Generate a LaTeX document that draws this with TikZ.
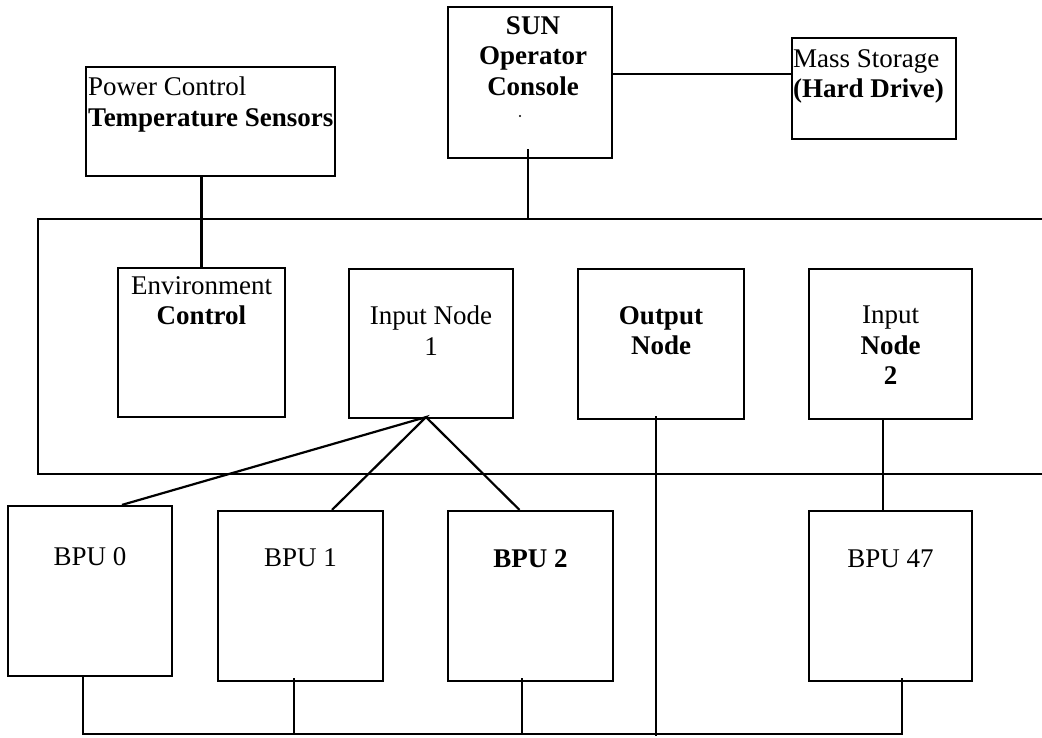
\documentclass[tikz,border=0pt]{standalone}
\usepackage{fontspec}
\setmainfont{Liberation Serif}
\usetikzlibrary{calc}
\begin{document}
\begin{tikzpicture}[x=1pt,y=-1pt,
  box/.style={draw,line width=2.2pt,inner sep=0pt},
  txt/.style={inner sep=0pt,font=\fontsize{27}{30.5}\selectfont},
  wire/.style={line width=2.2pt}]
\useasboundingbox (0,0) rectangle (1042,738);
% boxes
\node[box,minimum width=249pt,minimum height=109pt] (pc) at (210.5,121.5) {};
\node[box,minimum width=164pt,minimum height=151pt] (sun) at (530,82.5) {};
\node[box,minimum width=164pt,minimum height=101pt] (mass) at (874,88.5) {};
\node[box,minimum width=167pt,minimum height=149pt] (env) at (201.5,342.5) {};
\node[box,minimum width=164pt,minimum height=149pt] (in1) at (431,343.5) {};
\node[box,minimum width=166pt,minimum height=150pt] (out) at (661,344) {};
\node[box,minimum width=163pt,minimum height=150pt] (in2) at (890.5,344) {};
\node[box,minimum width=164pt,minimum height=170pt] (bpu0) at (90,591) {};
\node[box,minimum width=165pt,minimum height=170pt] (bpu1) at (300.5,596) {};
\node[box,minimum width=165pt,minimum height=170pt] (bpu2) at (530.5,596) {};
\node[box,minimum width=163pt,minimum height=170pt] (bpu47) at (890.5,596) {};
% texts
\node[txt,anchor=north west,align=left] (pct) at (88,77) {Power Control\\\textbf{Temperature Sensors}};
\node[txt,anchor=north,align=center] (sunt) at (533,16) {\textbf{SUN}\\\textbf{Operator}\\\textbf{Console}};
\node[circle,fill,inner sep=0pt,minimum size=2.2pt] (sundot) at (520,116) {};
\node[txt,anchor=north west,align=left] (masst) at (793,49) {Mass Storage\\\textbf{(Hard Drive)}};
\node[txt,anchor=north,align=center] (envt) at (201.5,276) {Environment\\\textbf{Control}};
\node[txt,anchor=north,align=center] (in1t) at (431,306) {Input Node\\1};
\node[txt,anchor=north,align=center] (outt) at (661,306) {\textbf{Output}\\\textbf{Node}};
\node[txt,anchor=north,align=center] (in2t) at (890.5,306) {Input\\\textbf{Node}\\\textbf{2}};
\node[txt,anchor=north] (bpu0t) at (90,547) {BPU 0};
\node[txt,anchor=north] (bpu1t) at (300.5,548) {BPU 1};
\node[txt,anchor=north] (bpu2t) at (530.5,549) {\textbf{BPU 2}};
\node[txt,anchor=north] (bpu47t) at (890.5,550) {BPU 47};
% frame open on the right
\coordinate (ftr) at (1042,219);
\coordinate (ftl) at (38,219);
\coordinate (fbl) at (38,474);
\coordinate (fbr) at (1042,474);
\draw[wire] (ftr) -- (ftl) -- (fbl) -- (fbr);
% connectors
\draw[wire] (env.north |- pc.south) -- (env.north);
\draw[wire] ([yshift=8.5pt]sun.east) -- ([yshift=8.5pt]sun.east -| mass.west);
\draw[wire] ([xshift=-2pt,yshift=10pt]sun.south) -- ([xshift=-2pt]sun.south |- ftl);
\coordinate (fan) at ([xshift=-5pt,yshift=2pt]in1.south);
\draw[wire] ([xshift=32pt]bpu0.north) -- (fan) -- ([xshift=31.5pt]bpu1.north);
\draw[wire] (fan) -- ([xshift=-11pt]bpu2.north);
\draw[wire] ([xshift=-7.5pt]in2.south) -- ([xshift=-7.5pt]in2.south |- bpu47.north);
\coordinate (busy) at (0,734);
\draw[wire] ([xshift=-7pt]bpu0.south) |- ([xshift=11.5pt]bpu47.south |- busy) -- ([xshift=11.5pt,yshift=4pt]bpu47.south);
\draw[wire] ([xshift=-6.5pt,yshift=4pt]bpu1.south) -- ([xshift=-6.5pt]bpu1.south |- busy);
\draw[wire] ([xshift=-8.5pt,yshift=4pt]bpu2.south) -- ([xshift=-8.5pt]bpu2.south |- busy);
\draw[wire] ([xshift=-5pt,yshift=4pt]out.south) -- ([xshift=-5pt,yshift=-2pt]out.south |- busy);
\end{tikzpicture}
\end{document}
